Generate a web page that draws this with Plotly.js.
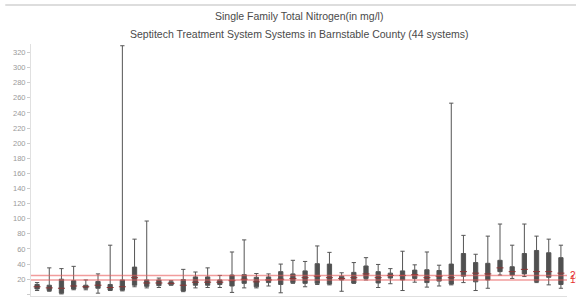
<!DOCTYPE html>
<html>
<head>
<meta charset="utf-8">
<script src="https://cdn.plot.ly/plotly-3.0.1.min.js"></script>
<style>html,body{margin:0;padding:0;background:#fff;}#chart{width:576px;height:297px;}</style>
</head>
<body>
<div id="chart"></div>
<script>
var systems = ["S1","S2","S3","S4","S5","S6","S7","S8","S9","S10","S11","S12","S13","S14","S15","S16","S17","S18","S19","S20","S21","S22","S23","S24","S25","S26","S27","S28","S29","S30","S31","S32","S33","S34","S35","S36","S37","S38","S39","S40","S41","S42","S43","S44"];
var lowValues  = [5,4,0.5,6,6,1.5,5,4.5,10,8.5,9,12,3.5,8.5,9,9,2.5,8.5,8.5,11,2,14.5,10,13,12.5,4,14.5,19,9,14,5,16,9.5,11,12.5,15.5,5,8,25.5,21,23.5,15.5,12.5,8];
var q1Values   = [7,5,1.5,7,8,8,5.5,5.5,12,10.5,11.5,12.5,4.5,12,12,13,11,14.5,10,15.5,13,15.5,14.5,14.5,13.5,19,15,21,15,21.5,19,21,15.5,17.5,13.5,24,16.5,19,30,25.5,27,17,22.5,13];
var medianValues = [10,8.5,8,11,10,12,9,10,22,15,15,14.5,12,16,16,16,18,20,16.5,19,20,21,22,24,22,21,22,27,22,25,25,26,22,24,22,30,28,27,35,30,33,30,30,28];
var q3Values   = [13,12,20,18,12,17,13,19,36,19,19,16.5,19.5,23,23,19,25.5,26,22.5,23,30,27,31,40.5,40,24,29,37.5,30,28,31,32,32.5,31.5,40,54,42,41,45,36.5,54,58,55,48.5];
var highValues = [15.5,35,34,37,19,27,65,329,73,97,21.5,18,33,29.5,35,25,56,72,27.5,27,40,45,43.5,64,55.5,28.5,42,48.5,39.5,34,57,39,56,38.5,253,78,53,77,93,65,93,77,73,65];
var referenceValues = [25, 19];
var referenceLabels = ["25", "19"];
var titleLines = ["Single Family Total Nitrogen(in mg/l)", "Septitech Treatment System Systems in Barnstable County (44 systems)"];

var boxTrace = {
  type: 'box',
  x: systems,
  q1: q1Values,
  median: medianValues,
  q3: q3Values,
  lowerfence: lowValues,
  upperfence: highValues,
  fillcolor: '#505050',
  line: {color: '#555555', width: 1},
  whiskerwidth: 1,
  boxpoints: false,
  hoverinfo: 'skip',
  showlegend: false
};
var medianTrace = {
  type: 'scatter',
  mode: 'markers',
  x: systems,
  y: medianValues,
  marker: {symbol: 'line-ew', size: 5, line: {width: 1, color: '#8c3434'}},
  hoverinfo: 'skip',
  showlegend: false
};

var shapes = referenceValues.map(function(v){
  return {type: 'line', xref: 'paper', x0: 0, x1: 1, yref: 'y', y0: v, y1: v,
          line: {color: 'rgba(232,90,90,0.6)', width: 1.5}, layer: 'above'};
});
shapes.push({type: 'line', xref: 'paper', yref: 'paper', x0: -0.048, x1: 1.03, y0: 1.155, y1: 1.155,
             line: {color: '#dddddd', width: 2}});

var annotations = referenceValues.map(function(v, i){
  return {xref: 'paper', x: 1, xanchor: 'left', xshift: 1, yref: 'y', y: v, yanchor: 'middle',
          text: referenceLabels[i], showarrow: false,
          font: {family: 'Liberation Sans, Arial, sans-serif', size: 10, color: '#e53030'}};
});
annotations.push({xref: 'paper', yref: 'paper', x: 0.5, y: 1.113, xanchor: 'center', yanchor: 'middle',
  text: titleLines[0], showarrow: false, font: {family: 'Liberation Sans, Arial, sans-serif', size: 10.5, color: '#4a4a4a'}});
annotations.push({xref: 'paper', yref: 'paper', x: 0.5, y: 1.038, xanchor: 'center', yanchor: 'middle',
  text: titleLines[1], showarrow: false, font: {family: 'Liberation Sans, Arial, sans-serif', size: 10.5, color: '#4a4a4a'}});

var layout = {
  width: 576, height: 297,
  margin: {l: 31, r: 9, t: 44, b: 1, pad: 0},
  paper_bgcolor: '#ffffff', plot_bgcolor: '#ffffff',
  boxgap: 0.5,
  font: {family: 'Liberation Sans, Arial, sans-serif', color: '#999'},
  xaxis: {type: 'category', showticklabels: false, ticks: '', showgrid: false, zeroline: false,
          showline: true, linecolor: '#e0e0e0', linewidth: 1, range: [-0.5, 43.5]},
  yaxis: {range: [-2.25, 331.3], tickmode: 'linear', tick0: 0, dtick: 20, showgrid: false, zeroline: false,
          showline: true, linecolor: '#e0e0e0', linewidth: 1, ticks: 'outside', ticklen: 3, tickcolor: '#cccccc',
          tickfont: {size: 7.5, color: '#9a9a9a'}},
  shapes: shapes,
  annotations: annotations
};
Plotly.newPlot('chart', [boxTrace, medianTrace], layout, {staticPlot: true, displayModeBar: false});
</script>
</body>
</html>
